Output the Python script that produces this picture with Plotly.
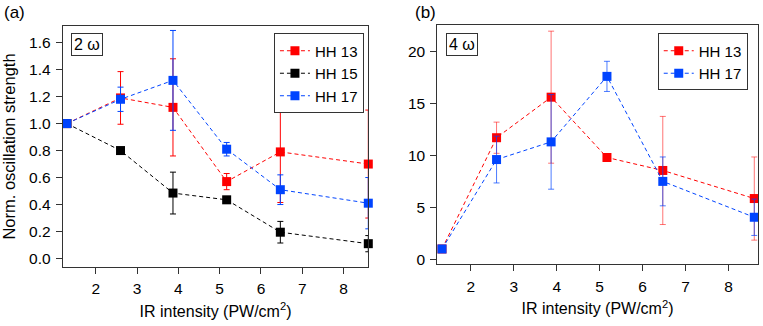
import plotly.graph_objects as go

# IR intensity (PW/cm^2)
x_a = [1.3, 2.6, 3.87, 5.17, 6.47, 8.6]
x_b = [1.33, 2.6, 3.87, 5.17, 6.47, 8.6]

# (a) 2 omega
hh13_a = [1.0, 1.19, 1.12, 0.57, 0.79, 0.70]
hh13_a_err = [0.0, 0.195, 0.36, 0.06, 0.375, 0.40]
hh15_a = [1.0, 0.80, 0.485, 0.435, 0.195, 0.11]
hh15_a_err = [0.0, 0.01, 0.155, 0.02, 0.08, 0.06]
hh17_a = [1.0, 1.18, 1.32, 0.81, 0.51, 0.41]
hh17_a_err = [0.0, 0.09, 0.37, 0.05, 0.11, 0.19]

# (b) 4 omega
hh13_b = [1.0, 11.7, 15.6, 9.8, 8.55, 5.85]
hh13_b_err = [0.0, 1.5, 6.35, 0.3, 5.2, 4.0]
hh17_b = [1.0, 9.6, 11.3, 17.6, 7.5, 4.05]
hh17_b_err = [0.0, 2.25, 4.55, 1.45, 2.35, 1.75]

RED = '#ff0000'
BLACK = '#000000'
BLUE = '#0044ff'
FONT = 'Liberation Sans, Arial, sans-serif'


def series(x, y, err, name, color, err_color, xa, ya, legend):
    return go.Scatter(
        x=x, y=y, name=name,
        mode='lines+markers',
        line=dict(color=color, width=1, dash='4px,3px'),
        marker=dict(symbol='square', size=9, color=color),
        error_y=dict(type='data', array=err, color=err_color,
                     thickness=1, width=3),
        cliponaxis=False,
        xaxis=xa, yaxis=ya, legend=legend,
    )


fig = go.Figure()
fig.add_trace(series(x_a, hh13_a, hh13_a_err, 'HH 13', RED, RED, 'x', 'y', 'legend'))
fig.add_trace(series(x_a, hh15_a, hh15_a_err, 'HH 15', BLACK, BLACK, 'x', 'y', 'legend'))
fig.add_trace(series(x_a, hh17_a, hh17_a_err, 'HH 17', BLUE, BLUE, 'x', 'y', 'legend'))
fig.add_trace(series(x_b, hh13_b, hh13_b_err, 'HH 13', RED, 'rgba(255,0,0,0.55)', 'x2', 'y2', 'legend2'))
fig.add_trace(series(x_b, hh17_b, hh17_b_err, 'HH 17', BLUE, 'rgba(0,68,255,0.7)', 'x2', 'y2', 'legend2'))

axis_style = dict(
    showline=True, mirror=True, linecolor='#333', linewidth=1,
    ticks='outside', ticklen=6, tickcolor='#333',
    ticklabelstandoff=2,
    showgrid=False, zeroline=False,
    tickfont=dict(size=15.5, color='black'),
)

legend_style = dict(
    bordercolor='#333', borderwidth=1, bgcolor='white',
    font=dict(size=15, color='black', family=FONT),
    xanchor='right', yanchor='top', tracegroupgap=0,
    itemwidth=30,
)

xtitle = dict(text='IR intensity (PW/cm<sup>2</sup>)', font=dict(size=16), standoff=9)

fig.update_layout(
    width=763, height=326,
    margin=dict(l=0, r=0, t=0, b=0),
    plot_bgcolor='white', paper_bgcolor='white',
    font=dict(family=FONT, color='black'),
    xaxis=dict(axis_style, domain=[0.0822, 0.4827], range=[1.2, 8.6],
               dtick=1, tick0=0, title=xtitle),
    yaxis=dict(axis_style, domain=[0.172, 0.918], range=[-0.06, 1.72],
               dtick=0.2, tickformat='.1f',
               title=dict(text='Norm. oscillation strength', font=dict(size=16.5), standoff=9)),
    xaxis2=dict(axis_style, domain=[0.5731, 0.9931], range=[1.22, 8.68],
                dtick=1, tick0=0, anchor='y2', title=xtitle),
    yaxis2=dict(axis_style, domain=[0.18, 0.921], range=[-0.45, 22.5],
                dtick=5, anchor='x2'),
    legend=dict(legend_style, x=0.477, y=0.896),
    legend2=dict(legend_style, x=0.980, y=0.896),
    annotations=[
        dict(text='(a)', x=0.003, y=0.96, xref='paper', yref='paper',
             xanchor='left', yanchor='middle', showarrow=False, font=dict(size=17)),
        dict(text='(b)', x=0.541, y=0.96, xref='paper', yref='paper',
             xanchor='left', yanchor='middle', showarrow=False, font=dict(size=17)),
        dict(text='2 ω', x=0.093, y=0.896, xref='paper', yref='paper',
             xanchor='left', yanchor='top', showarrow=False, font=dict(size=16),
             bordercolor='#333', borderwidth=1, borderpad=2, bgcolor='white'),
        dict(text='4 ω', x=0.585, y=0.896, xref='paper', yref='paper',
             xanchor='left', yanchor='top', showarrow=False, font=dict(size=16),
             bordercolor='#333', borderwidth=1, borderpad=2, bgcolor='white'),
    ],
)

fig.write_html('out.html', config={'displayModeBar': False},
               post_script="document.body.style.margin='0px';")
